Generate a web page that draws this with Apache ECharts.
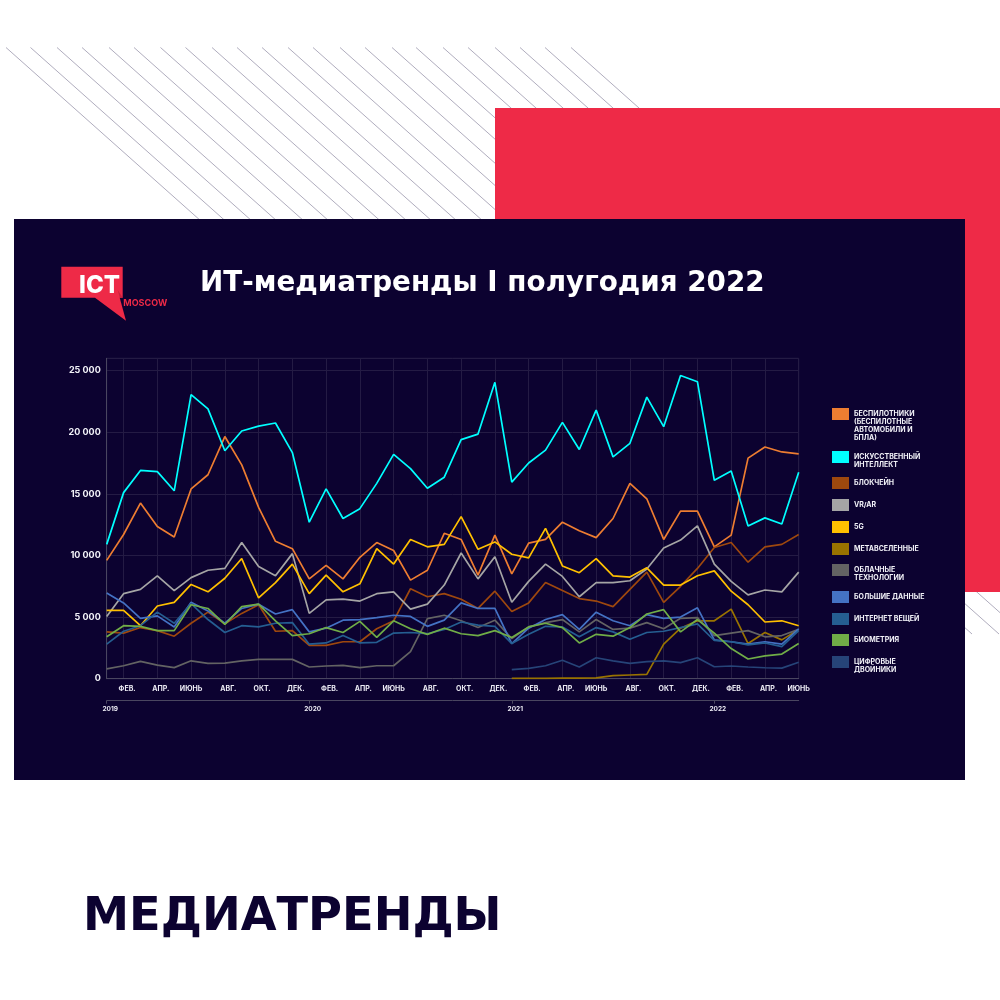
<!DOCTYPE html>
<html><head><meta charset="utf-8">
<style>html,body{margin:0;padding:0;background:#fff}#c{width:1000px;height:1000px}</style>
<script src="https://cdn.jsdelivr.net/npm/echarts@6/dist/echarts.min.js"></script>
</head><body><div id="c"></div>
<script>
const months = ['ЯНВ.','ФЕВ.','МАР.','АПР.','МАЙ','ИЮНЬ','ИЮЛЬ','АВГ.','СЕН.','ОКТ.','НОЯ.','ДЕК.',
 'ЯНВ.','ФЕВ.','МАР.','АПР.','МАЙ','ИЮНЬ','ИЮЛЬ','АВГ.','СЕН.','ОКТ.','НОЯ.','ДЕК.',
 'ЯНВ.','ФЕВ.','МАР.','АПР.','МАЙ','ИЮНЬ','ИЮЛЬ','АВГ.','СЕН.','ОКТ.','НОЯ.','ДЕК.',
 'ЯНВ.','ФЕВ.','МАР.','АПР.','МАЙ','ИЮНЬ'];
const years = {0:'2019',12:'2020',24:'2021',36:'2022'};
const yearCats = months.map((m,i)=>years[i]||'');
const notYet = [null,null,null,null,null,null,null,null,null,null,null,null,null,null,null,null,null,null,null,null,null,null,null,null];

const drones = [9600,11700,14250,12350,11500,15400,16550,19650,17350,13900,11150,10550,8100,9200,8100,9850,11050,10400,8000,8800,11800,11300,8400,11650,8500,11000,11300,12700,12000,11450,13000,15850,14600,11300,13600,13600,10700,11650,17900,18800,18400,18250];
const ai = [10900,15100,16900,16800,15250,23050,21900,18500,20100,20500,20750,18350,12700,15400,13000,13800,15850,18200,17050,15450,16350,19400,19850,24050,15950,17500,18550,20800,18600,21800,18000,19100,22850,20450,24600,24100,16100,16850,12400,13050,12550,16750];
const blockchain = [3800,3700,4150,3900,3450,4500,5400,4450,5300,6000,3850,3900,2700,2700,3000,3000,4050,4700,7300,6650,6900,6450,5700,7100,5450,6150,7800,7150,6500,6300,5850,7250,8650,6200,7500,8950,10650,11050,9450,10700,10900,11700];
const vrar = [5050,6900,7250,8350,7150,8200,8800,8950,11050,9100,8350,10150,5300,6400,6450,6300,6900,7050,5650,6050,7600,10200,8100,9900,6200,7900,9300,8300,6650,7800,7800,7950,8900,10600,11250,12400,9300,7900,6800,7200,7050,8650];
const fiveG = [5550,5550,4300,5900,6200,7650,7050,8150,9750,6550,7800,9300,6900,8400,7050,7700,10550,9300,11300,10700,10900,13150,10500,11100,10100,9800,12200,9150,8600,9750,8350,8250,9000,7600,7600,8350,8750,7100,6000,4600,4700,4300];
const metaverse = notYet.concat([20,30,30,50,50,60,250,300,350,2800,4100,4700,4700,5650,2850,3750,3150,4000]);
const cloud = [800,1050,1400,1100,900,1450,1250,1270,1450,1570,1570,1570,950,1030,1080,900,1050,1050,2200,4870,5150,4700,4150,4750,3250,4200,4550,4800,3800,4800,4000,4100,4550,4050,4900,4950,3500,3700,3900,3400,3500,4000];
const bigData = [6950,6150,4900,5100,4200,6200,5500,4500,5700,6050,5250,5600,3800,4100,4750,4800,4950,5150,5050,4250,4750,6150,5700,5700,2850,4100,4800,5200,4000,5400,4700,4300,5200,4900,5000,5750,3150,3000,2800,3000,2800,4050];
const iot = [2800,3850,4300,5400,4500,6100,4800,3750,4300,4200,4500,4550,2800,2900,3500,2900,2950,3700,3750,3650,4000,4600,4350,4250,2850,3600,4250,4200,3400,4150,3800,3200,3750,3850,4150,4450,3100,3000,2750,2900,2600,3900];
const biometry = [3400,4300,4250,3900,3900,6000,5700,4400,5850,6050,4700,3500,3650,4150,3750,4650,3350,4700,4050,3600,4100,3650,3500,3900,3350,4200,4500,4150,2900,3600,3450,4150,5250,5600,3800,4800,3700,2450,1600,1850,2000,2850];
const twins = notYet.concat([730,840,1050,1500,950,1700,1450,1250,1380,1450,1300,1700,970,1030,950,890,860,1330]);

const names = ['БЕСПИЛОТНИКИ\n(БЕСПИЛОТНЫЕ\nАВТОМОБИЛИ И\nБПЛА)','ИСКУССТВЕННЫЙ\nИНТЕЛЛЕКТ','БЛОКЧЕЙН','VR/AR','5G','МЕТАВСЕЛЕННЫЕ','ОБЛАЧНЫЕ\nТЕХНОЛОГИИ','БОЛЬШИЕ ДАННЫЕ','ИНТЕРНЕТ ВЕЩЕЙ','БИОМЕТРИЯ','ЦИФРОВЫЕ\nДВОЙНИКИ'];
const values = [drones,ai,blockchain,vrar,fiveG,metaverse,cloud,bigData,iot,biometry,twins];
const colors = ['#ED7D31','#00FFFF','#9E480E','#A5A5A5','#FFC000','#997300','#636363','#4472C4','#255E91','#70AD47','#264478'];
const legendTops = [408,451,477,499,521,543,564,591,613,634,656];
const hatchStarts = [6,30.5,57,82,109,134,160.5,185.5,212,237,262,288,313,340,365,392,416,443,468,495,520,545,571];

const NAVY='#0c0230', RED='#EE2A47', FONT='Inter', WIDE='DejaVu Sans';
const gfx=[];
hatchStarts.forEach(x=>gfx.push({type:'line',z:-10,shape:{x1:x,y1:47.5,x2:x+659,y2:634},style:{stroke:'#b0adbe',lineWidth:1}}));
gfx.push({type:'rect',z:-9,shape:{x:495,y:108,width:505,height:484},style:{fill:RED}});
gfx.push({type:'rect',z:-8,shape:{x:14,y:219,width:951,height:561},style:{fill:NAVY}});
gfx.push({type:'polygon',z:-7,shape:{points:[[61.3,266.7],[122.7,266.7],[122.7,297.7],[119.7,297.7],[126,320.7],[95,297.7],[61.3,297.7]]},style:{fill:RED}});
gfx.push({type:'text',z:-6,style:{text:'ICT',x:99.5,y:285.5,align:'center',verticalAlign:'middle',fill:'#fff',font:'800 24px '+FONT}});
gfx.push({type:'polygon',z:-5,shape:{points:[[117.7,290],[122.7,297.7],[119.7,297.7],[126,320.7]]},style:{fill:'#c9223d'}});
gfx.push({type:'text',z:-6,style:{text:'MOSCOW',x:123.3,y:303,align:'left',verticalAlign:'middle',fill:RED,font:'700 9px '+FONT}});

const LH=8;
const legendText = n => { const k=n.split('\n').length-1; return '\n'.repeat(k)+n; };
const chart = echarts.init(document.getElementById('c'),null,{renderer:'canvas'});
chart.setOption({
 animation:false,
 backgroundColor:'#fff',
 title:[
  {text:'ИТ-медиатренды I полугодия 2022',left:200,top:266,padding:0,textStyle:{color:'#fff',fontFamily:WIDE,fontWeight:700,fontSize:27.8,lineHeight:36}},
  {text:'МЕДИАТРЕНДЫ',left:83,top:890,padding:0,textStyle:{color:NAVY,fontFamily:WIDE,fontWeight:700,fontSize:46.3,lineHeight:56}}
 ],
 graphic:{elements:gfx},
 legend:names.map((n,i)=>{
  const k=n.split('\n').length-1;
  return {data:[n],orient:'vertical',left:832,top:k>0?legendTops[i]+6-(2*k+1)*LH/2:legendTops[i],padding:0,itemGap:0,itemWidth:17,itemHeight:12,icon:'rect',selectedMode:false,
   formatter:legendText,
   textStyle:{color:'#f2f2f8',fontFamily:FONT,fontWeight:700,fontSize:7,lineHeight:LH}};
 }),
 grid:{left:106.7,right:201.3,top:358.3,height:320.4,show:true,borderColor:'#241b44',borderWidth:1,backgroundColor:'transparent'},
 xAxis:[
  {type:'category',data:months,boundaryGap:false,
   axisLine:{lineStyle:{color:'#4a4660',width:1}},axisTick:{show:false},
   splitLine:{show:true,interval:i=>i%2===1,lineStyle:{color:'#241b44',width:1}},
   axisLabel:{interval:i=>i%2===1,margin:7,hideOverlap:false,color:'#ecebf4',fontFamily:FONT,fontWeight:700,fontSize:7,
     formatter:v=>v==='ИЮНЬ'?'{j|'+v+'}':'{m|'+v+'}',
     rich:{m:{padding:[0,0,0,7],color:'#ecebf4',fontFamily:FONT,fontWeight:700,fontSize:7},j:{color:'#ecebf4',fontFamily:FONT,fontWeight:700,fontSize:7}}}},
  {type:'category',data:yearCats,boundaryGap:false,position:'bottom',offset:22,
   axisLine:{show:true,lineStyle:{color:'#4a4660',width:1}},
   axisTick:{show:true,interval:i=>i%12===0,length:3,lineStyle:{color:'#4a4660'}},
   splitLine:{show:false},
   axisLabel:{interval:i=>i%12===0,margin:5,hideOverlap:false,formatter:v=>v?'{y|'+v+'}':'',
     rich:{y:{padding:[0,0,0,7],color:'#ecebf4',fontFamily:FONT,fontWeight:700,fontSize:6.5}}}}
 ],
 yAxis:{type:'value',min:0,max:26000,interval:5000,
  axisLine:{show:true,lineStyle:{color:'#4a4660',width:1}},axisTick:{show:false},
  splitLine:{lineStyle:{color:'#241b44',width:1}},
  axisLabel:{margin:6,color:'#f2f2f8',fontFamily:FONT,fontWeight:700,fontSize:9,padding:[0,0,6,0],
   formatter:v=>v>25000?'':String(v).replace(/\B(?=(\d{3})+$)/g,' ')}},
 series:names.map((n,i)=>({type:'line',name:n,data:values[i],xAxisIndex:0,symbol:'none',connectNulls:false,
   lineStyle:{color:colors[i],width:1.7},itemStyle:{color:colors[i]},z:2+i*0.01}))
});
</script></body></html>
